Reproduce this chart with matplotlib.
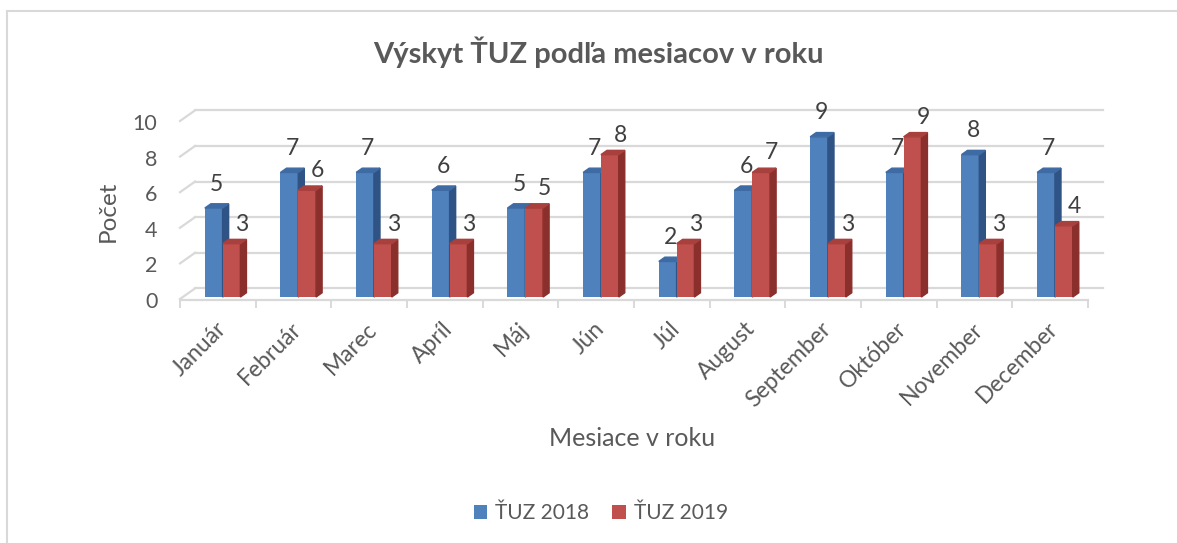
import matplotlib
matplotlib.use("Agg")
import matplotlib.pyplot as plt
from matplotlib.patches import Polygon
from matplotlib.lines import Line2D

# data
months = ["Január", "Február", "Marec", "Apríl", "Máj", "Jún", "Júl",
          "August", "September", "Október", "November", "December"]
tuz_2018 = [5, 7, 7, 6, 5, 7, 2, 6, 9, 7, 8, 7]
tuz_2019 = [3, 6, 3, 3, 5, 8, 3, 7, 3, 9, 3, 4]
y_ticks = [0, 2, 4, 6, 8, 10]

plt.rcParams['font.family'] = ['Lato', 'DejaVu Sans']

W, H = 1177, 543
fig = plt.figure(figsize=(W / 100, H / 100), dpi=100)

# axes placed so that one category = 75.6 px and one unit = 17.8 px
x0_px, x1_px = 180, 1088
y0_px, unit_px = 299, 17.8
ylo, yhi = -1, 11
bottom_px = y0_px - ylo * unit_px
top_px = y0_px - yhi * unit_px
ax = fig.add_axes([x0_px / W, 1 - bottom_px / H, (x1_px - x0_px) / W,
                   (bottom_px - top_px) / H])
ax.set_xlim(-0.5, len(months) - 0.5)
ax.set_ylim(ylo, yhi)
ax.axis('off')

grid_c = '#D9D9D9'
text_c = '#595959'
lab_c = '#404040'

# 3d offsets
wall_dx, wall_dy = 0.2, 0.6
bar_dx, bar_dy = 0.08, 0.24
base = 0.11
n = len(months)

# back wall gridlines + left wall diagonals
for v in y_ticks:
    ax.plot([-0.5 + wall_dx, n - 0.5 + wall_dx], [v + wall_dy, v + wall_dy],
            color=grid_c, lw=1.6, clip_on=False, zorder=1)
    ax.plot([-0.5, -0.5 + wall_dx], [v, v + wall_dy],
            color=grid_c, lw=1.6, clip_on=False, zorder=1)
    ax.text(-0.8, v - 0.17, str(v), ha='right', va='center',
            fontsize=15.5, color=text_c)

# front floor edge and ticks
ax.plot([-0.5, n - 0.5], [-0.06, -0.06], color=grid_c, lw=1.6,
        clip_on=False, zorder=1)
for i in range(n + 1):
    ax.plot([i - 0.5, i - 0.5], [-0.06, -0.45], color=grid_c, lw=1.4,
            clip_on=False, zorder=1)


def draw_bars(offset, values, front, top_c, side_c, label, lab_dx, lab_dy):
    w = 0.235
    xs = [i + offset for i in range(n)]
    bars = ax.bar(xs, values, width=w, bottom=base, align='edge',
                  color=front, zorder=3, label=label)
    for x, v in zip(xs, values):
        t = base + v
        r = x + w
        ax.add_patch(Polygon([(r, base), (r, t), (r + bar_dx, t + bar_dy),
                              (r + bar_dx, base + bar_dy)],
                             closed=True, color=side_c, zorder=3))
        ax.add_patch(Polygon([(x, t), (r, t), (r + bar_dx, t + bar_dy),
                              (x + bar_dx, t + bar_dy)],
                             closed=True, color=top_c, zorder=3))
        ax.text(x + w / 2 + lab_dx, t + lab_dy, str(v), ha='center',
                va='center', fontsize=16.5, color=lab_c, zorder=4)
    return bars


b1 = draw_bars(-0.172, tuz_2018, '#4F81BD', '#3E6BA3', '#2E5384', 'ŤUZ 2018',
               0.035, 1.35)
b2 = draw_bars(0.063, tuz_2019, '#C0504D', '#A8403D', '#8A2F2C', 'ŤUZ 2019',
               0.14, 1.1)

# category labels
for i, m in enumerate(months):
    ax.text(i - 0.035, -1.08, m, rotation=45, ha='right', va='top',
            rotation_mode='anchor', fontsize=16.5, color=text_c)

fig.text(598 / W, 1 - 52 / H, "Výskyt ŤUZ podľa mesiacov v roku",
         ha='center', va='center', fontsize=21, fontweight='bold',
         color=text_c)
fig.text(108 / W, 1 - 211 / H, "Počet", rotation=90, ha='center',
         va='center', fontsize=17.5, color=text_c)
fig.text(632 / W, 1 - 438 / H, "Mesiace v roku", ha='center', va='center',
         fontsize=18, color=text_c)

leg = fig.legend(handles=[b1, b2], loc='center',
                 bbox_to_anchor=(601 / W, 1 - 513 / H), ncol=2,
                 frameon=False, fontsize=15, handlelength=0.65,
                 handleheight=0.65, handletextpad=0.4, columnspacing=1.1)
for t in leg.get_texts():
    t.set_color(text_c)

# chart frame (top and left edges visible)
fig.add_artist(Line2D([7 / W, 1], [1 - 11 / H, 1 - 11 / H], color=grid_c,
                      lw=1.5))
fig.add_artist(Line2D([7 / W, 7 / W], [0, 1 - 11 / H], color=grid_c, lw=1.5))

fig.savefig("out.png", dpi=100)
